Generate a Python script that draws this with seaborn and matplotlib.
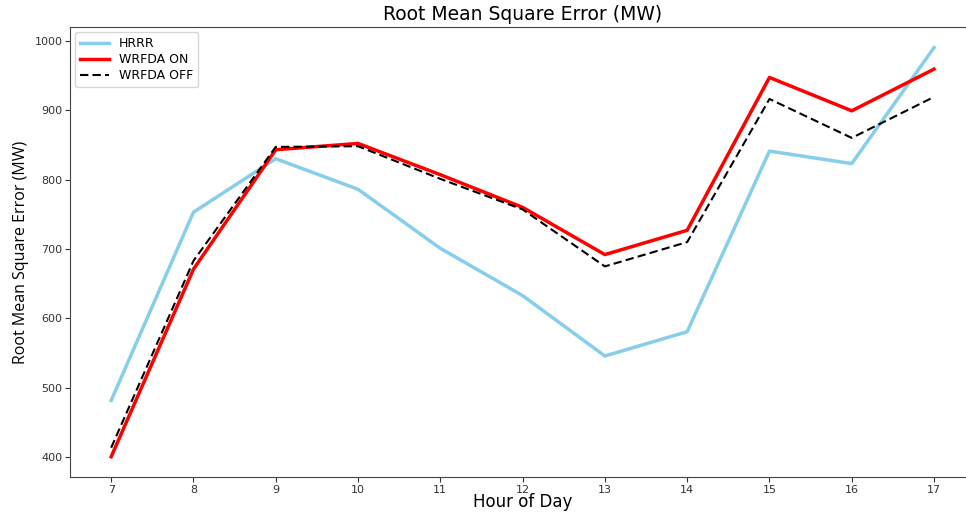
import matplotlib
matplotlib.use("Agg")
import matplotlib.pyplot as plt
import seaborn as sns
import pandas as pd

hours = [7, 8, 9, 10, 11, 12, 13, 14, 15, 16, 17]
hrrr = [482, 753, 830, 786, 701, 633, 546, 581, 841, 823, 990]
wrfda_on = [401, 671, 843, 852, 807, 760, 692, 727, 947, 899, 959]
wrfda_off = [414, 683, 847, 848, 801, 757, 675, 710, 916, 860, 919]

fig = plt.figure(figsize=(9.66, 5.12), dpi=100)
ax = fig.add_axes([0.0725, 0.068, 0.937, 0.879])

sns.lineplot(x=hours, y=hrrr, ax=ax, color="#87CEEB", linewidth=2.5, label="HRRR")
sns.lineplot(x=hours, y=wrfda_on, ax=ax, color="red", linewidth=2.5, label="WRFDA ON")
sns.lineplot(x=hours, y=wrfda_off, ax=ax, color="black", linewidth=1.5,
             linestyle=(0, (4, 2)), label="WRFDA OFF")

ax.set_xticks(hours)
ax.set_yticks([400, 500, 600, 700, 800, 900, 1000])
ax.tick_params(labelsize=8, colors="#333333", pad=2)
for s in ax.spines.values():
    s.set_color("#444444")

ax.set_title("Root Mean Square Error (MW)", fontsize=13.5, family="DejaVu Sans", pad=5)
ax.set_xlabel("Hour of Day", fontsize=12, family="DejaVu Sans", labelpad=-1)
ax.set_ylabel("Root Mean Square Error (MW)", fontsize=11.5, family="Open Sans", labelpad=4)

ax.legend(loc="upper left", fontsize=9, handlelength=2.3, labelspacing=0.25,
          borderaxespad=0.4)

fig.savefig("out.png", dpi=100)
